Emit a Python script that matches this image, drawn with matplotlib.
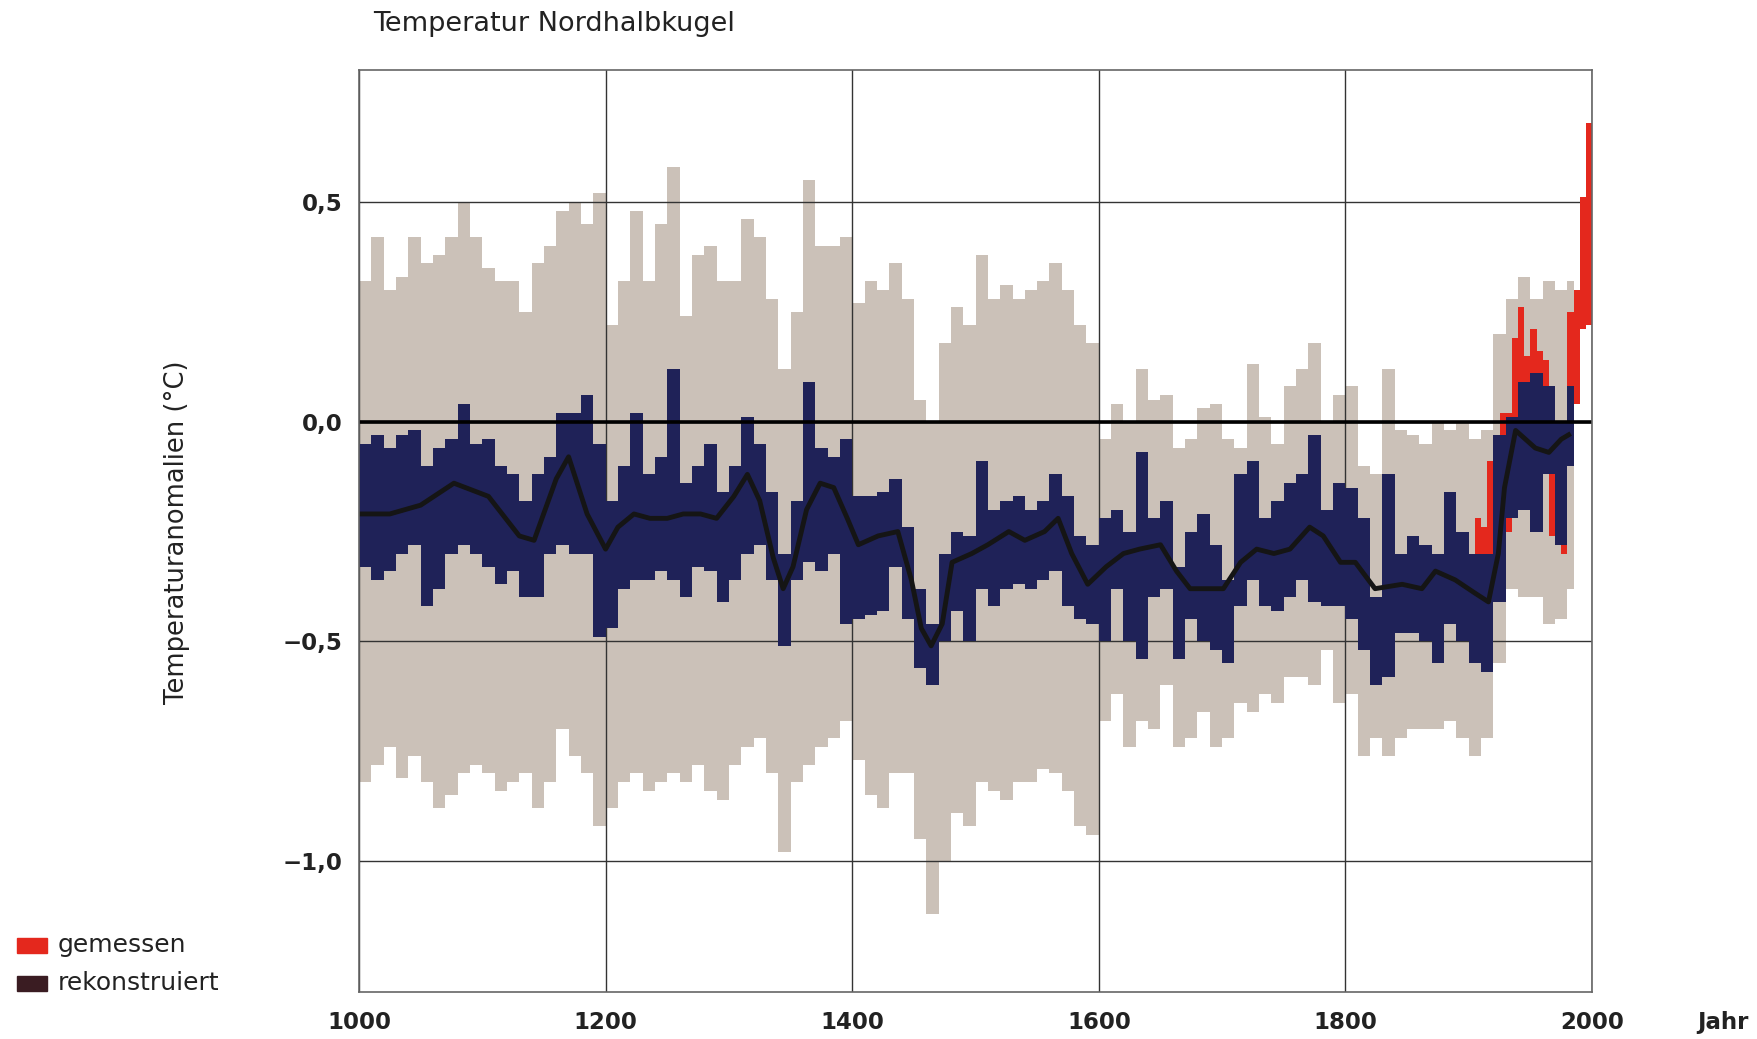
import numpy as np
import matplotlib
matplotlib.use("Agg")
import matplotlib.pyplot as plt
from matplotlib.patches import Rectangle

plt.rcParams["font.family"] = ["DejaVu Sans"]

# Jahrzehnte der Rekonstruktion (Startjahr jedes Blocks), letzter Block endet 1985
decades = list(range(1000, 1990, 10))
recon_end = 1985

# Unsicherheitsband (grau), obere / untere Grenze je Jahrzehnt
gray_hi = [
    0.32, 0.42, 0.30, 0.33, 0.42, 0.36, 0.38, 0.42, 0.50, 0.42,
    0.35, 0.32, 0.32, 0.25, 0.36, 0.40, 0.48, 0.50, 0.45, 0.52,
    0.22, 0.32, 0.48, 0.32, 0.45, 0.58, 0.24, 0.38, 0.40, 0.32,
    0.32, 0.46, 0.42, 0.28, 0.12, 0.25, 0.55, 0.40, 0.40, 0.42,
    0.27, 0.32, 0.30, 0.36, 0.28, 0.05, 0.00, 0.18, 0.26, 0.22,
    0.38, 0.28, 0.31, 0.28, 0.30, 0.32, 0.36, 0.30, 0.22, 0.18,
    -0.04, 0.04, 0.00, 0.12, 0.05, 0.06, -0.06, -0.04, 0.03, 0.04,
    -0.04, -0.06, 0.13, 0.01, -0.05, 0.08, 0.12, 0.18, 0.00, 0.06,
    0.08, -0.10, -0.12, 0.12, -0.02, -0.03, -0.05, 0.00, -0.02, 0.00,
    -0.04, -0.02, 0.20, 0.28, 0.33, 0.28, 0.32, 0.30, 0.32,
]
gray_lo = [
    -0.82, -0.78, -0.74, -0.81, -0.76, -0.82, -0.88, -0.85, -0.80, -0.78,
    -0.80, -0.84, -0.82, -0.80, -0.88, -0.82, -0.70, -0.76, -0.80, -0.92,
    -0.88, -0.82, -0.80, -0.84, -0.82, -0.80, -0.82, -0.78, -0.84, -0.86,
    -0.78, -0.74, -0.72, -0.80, -0.98, -0.82, -0.78, -0.74, -0.72, -0.68,
    -0.77, -0.85, -0.88, -0.80, -0.80, -0.95, -1.12, -1.00, -0.89, -0.92,
    -0.82, -0.84, -0.86, -0.82, -0.82, -0.79, -0.80, -0.84, -0.92, -0.94,
    -0.68, -0.62, -0.74, -0.68, -0.70, -0.60, -0.74, -0.72, -0.66, -0.74,
    -0.72, -0.64, -0.66, -0.62, -0.64, -0.58, -0.58, -0.60, -0.52, -0.64,
    -0.62, -0.76, -0.72, -0.76, -0.72, -0.70, -0.70, -0.70, -0.68, -0.72,
    -0.76, -0.72, -0.55, -0.38, -0.40, -0.40, -0.46, -0.45, -0.38,
]

# rekonstruierte Werte (blau), Spannweite je Jahrzehnt
recon_lo = [
    -0.33, -0.36, -0.34, -0.30, -0.28, -0.42, -0.38, -0.30, -0.28, -0.30,
    -0.33, -0.37, -0.34, -0.40, -0.40, -0.30, -0.28, -0.30, -0.30, -0.49,
    -0.47, -0.38, -0.36, -0.36, -0.34, -0.36, -0.40, -0.33, -0.34, -0.41,
    -0.36, -0.30, -0.28, -0.36, -0.51, -0.36, -0.32, -0.34, -0.30, -0.46,
    -0.45, -0.44, -0.43, -0.33, -0.45, -0.56, -0.60, -0.50, -0.43, -0.50,
    -0.38, -0.42, -0.38, -0.37, -0.38, -0.36, -0.34, -0.42, -0.45, -0.46,
    -0.50, -0.38, -0.50, -0.54, -0.40, -0.38, -0.54, -0.45, -0.50, -0.52,
    -0.55, -0.42, -0.36, -0.42, -0.43, -0.40, -0.36, -0.41, -0.42, -0.42,
    -0.45, -0.52, -0.60, -0.58, -0.48, -0.48, -0.50, -0.55, -0.46, -0.50,
    -0.55, -0.57, -0.41, -0.22, -0.20, -0.25, -0.12, -0.28, -0.10,
]
recon_hi = [
    -0.05, -0.03, -0.06, -0.03, -0.02, -0.10, -0.06, -0.04, 0.04, -0.05,
    -0.04, -0.10, -0.12, -0.18, -0.12, -0.08, 0.02, 0.02, 0.06, -0.05,
    -0.18, -0.10, 0.02, -0.12, -0.08, 0.12, -0.14, -0.10, -0.05, -0.16,
    -0.10, 0.01, -0.05, -0.16, -0.30, -0.18, 0.09, -0.06, -0.08, -0.04,
    -0.17, -0.17, -0.16, -0.13, -0.24, -0.38, -0.46, -0.30, -0.25, -0.26,
    -0.09, -0.20, -0.18, -0.17, -0.20, -0.18, -0.12, -0.17, -0.26, -0.28,
    -0.22, -0.20, -0.25, -0.07, -0.22, -0.18, -0.33, -0.25, -0.21, -0.28,
    -0.36, -0.12, -0.09, -0.22, -0.18, -0.14, -0.12, -0.03, -0.20, -0.14,
    -0.15, -0.22, -0.40, -0.12, -0.30, -0.26, -0.28, -0.30, -0.16, -0.25,
    -0.30, -0.30, -0.03, 0.01, 0.09, 0.11, 0.08, 0.00, 0.08,
]

# geglaettete Kurve (schwarz)
smooth_years = [
    1000, 1025, 1050, 1077, 1105, 1130, 1142, 1160, 1170, 1185,
    1200, 1210, 1223, 1236, 1250, 1263, 1277, 1290, 1304, 1315,
    1325, 1336, 1344, 1352, 1363, 1374, 1385, 1396, 1405, 1421,
    1437, 1448, 1456, 1464, 1473, 1481, 1497, 1510, 1527, 1540,
    1556, 1567, 1578, 1591, 1606, 1620, 1633, 1650, 1663, 1674,
    1688, 1701, 1715, 1728, 1742, 1755, 1771, 1782, 1796, 1808,
    1824, 1846, 1862, 1873, 1889, 1905, 1916, 1924, 1929, 1938,
    1946, 1954, 1965, 1975, 1981,
]
smooth_vals = [
    -0.21, -0.21, -0.19, -0.14, -0.17, -0.26, -0.27, -0.13, -0.08, -0.21,
    -0.29, -0.24, -0.21, -0.22, -0.22, -0.21, -0.21, -0.22, -0.17, -0.12,
    -0.18, -0.31, -0.38, -0.33, -0.20, -0.14, -0.15, -0.22, -0.28, -0.26,
    -0.25, -0.36, -0.47, -0.51, -0.46, -0.32, -0.30, -0.28, -0.25, -0.27,
    -0.25, -0.22, -0.30, -0.37, -0.33, -0.30, -0.29, -0.28, -0.34, -0.38,
    -0.38, -0.38, -0.32, -0.29, -0.30, -0.29, -0.24, -0.26, -0.32, -0.32,
    -0.38, -0.37, -0.38, -0.34, -0.36, -0.39, -0.41, -0.30, -0.15, -0.02,
    -0.04, -0.06, -0.07, -0.04, -0.03,
]

# gemessene Werte (rot), Spannweite je 5 Jahre, letzter Block endet 2000
meas_years = list(range(1905, 2000, 5))
meas_end = 2000
meas_lo = [
    -0.30, -0.38, -0.55, -0.36, -0.36, -0.25, -0.03, -0.09, -0.12, -0.22,
    -0.18, -0.09, -0.26, -0.28, -0.30, -0.09, 0.04, 0.21, 0.22,
]
meas_hi = [
    -0.22, -0.24, -0.09, -0.22, 0.02, 0.02, 0.19, 0.26, 0.15, 0.21,
    0.16, 0.14, 0.08, -0.02, 0.00, 0.25, 0.30, 0.51, 0.68,
]

yticks = [0.5, 0.0, -0.5, -1.0]
ytick_labels = ["0,5", "0,0", "\u22120,5", "\u22121,0"]
xticks = [1000, 1200, 1400, 1600, 1800, 2000]


def step_band(ax, starts, end, lo, hi, **kw):
    x = list(starts) + [end]
    ax.fill_between(x, list(lo) + [lo[-1]], list(hi) + [hi[-1]],
                    step="post", linewidth=0, **kw)


def main():
    fig = plt.figure(figsize=(17.58, 10.39), dpi=100)
    ax = fig.add_axes([0.2042, 0.0452, 0.7014, 0.8879])

    step_band(ax, decades, recon_end, gray_lo, gray_hi, color="#cbc1b8", zorder=1)
    step_band(ax, meas_years, meas_end, meas_lo, meas_hi, color="#e4281d", zorder=3)
    step_band(ax, decades, recon_end, recon_lo, recon_hi, color="#1f2258", zorder=4)
    ax.plot(smooth_years, smooth_vals, color="#151515", linewidth=3.5, zorder=5)
    ax.axhline(0.0, color="black", linewidth=2.6, zorder=6)

    ax.set_xlim(1000, 2000)
    ax.set_ylim(-1.2975, 0.801)
    ax.set_xticks(xticks)
    ax.set_yticks(yticks)
    ax.set_yticklabels(ytick_labels)
    ax.tick_params(length=0, labelsize=16.5)
    ax.tick_params(axis="x", pad=14)
    ax.tick_params(axis="y", pad=12)
    for lab in ax.get_xticklabels() + ax.get_yticklabels():
        lab.set_fontweight("bold")
        lab.set_color("#222222")
    ax.grid(True, color="#333333", linewidth=1.0, zorder=2)
    ax.set_axisbelow(False)
    for sp in ax.spines.values():
        sp.set_color("#666666")
        sp.set_linewidth(1.2)
        sp.set_zorder(7)

    fig.text(177 / 1758, 1 - 532 / 1039, "Temperaturanomalien (\u00b0C)",
             fontsize=18.5, color="#222222", rotation=90, va="center", ha="center")

    fig.text(373 / 1758, 1 - 24 / 1039, "Temperatur Nordhalbkugel",
             fontsize=19.5, color="#222222", va="center", ha="left")
    fig.text(1723 / 1758, 1 - 1022 / 1039, "Jahr", fontsize=16.5,
             fontweight="bold", color="#222222", va="center", ha="center")

    # Legende unten links
    fig.patches.append(Rectangle((17 / 1758, 1 - 953 / 1039), 30 / 1758, 15 / 1039,
                                 transform=fig.transFigure, color="#e4281d"))
    fig.patches.append(Rectangle((17 / 1758, 1 - 991 / 1039), 30 / 1758, 15 / 1039,
                                 transform=fig.transFigure, color="#3a1c22"))
    fig.text(58 / 1758, 1 - 945 / 1039, "gemessen", fontsize=18,
             color="#222222", va="center", ha="left")
    fig.text(58 / 1758, 1 - 983 / 1039, "rekonstruiert", fontsize=18,
             color="#222222", va="center", ha="left")

    fig.savefig("out.png", dpi=100)
    plt.close(fig)


if __name__ == "__main__":
    main()
